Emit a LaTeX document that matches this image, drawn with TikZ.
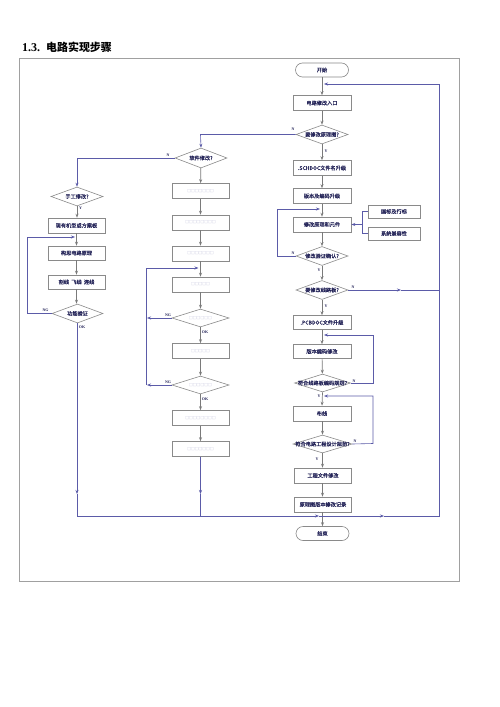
\documentclass[tikz,border=0pt]{standalone}
\usepackage{fontspec}
\setmainfont{Liberation Serif}
\newfontfamily\cjk{Noto Sans CJK SC}[FakeBold=0.7]
\newfontfamily\cjkph{Noto Sans CJK SC}
\usetikzlibrary{shapes.geometric,arrows.meta}
\definecolor{boxline}{HTML}{8A8A8A}
\definecolor{flowc}{HTML}{7A7A7A}
\definecolor{txt}{HTML}{26265A}
\definecolor{loopc}{HTML}{5B5BA8}
\definecolor{ph}{HTML}{A0A0C6}
\definecolor{framec}{HTML}{A0A0A0}
\tikzset{
  box/.style={draw=boxline, line width=0.6bp, minimum width=57bp, minimum height=15bp, inner sep=0pt, font=\cjk\fontsize{5.2}{6}\selectfont, text=txt},
  sbox/.style={box, minimum width=52bp, minimum height=13bp},
  term/.style={box, rounded corners=7bp, minimum width=53bp, minimum height=14bp},
  dia/.style={diamond, draw=boxline, line width=0.6bp, inner sep=0pt, minimum width=52bp, minimum height=19bp, shape aspect=2.8,
     label={[font=\cjk\fontsize{5.2}{6}\selectfont, text=txt, inner sep=0pt]center:#1}},
  phd/.style={font=\cjkph\fontsize{3.8}{5}\selectfont, text=ph},
  flow/.style={draw=flowc, line width=0.7bp, -{Stealth[length=4bp,width=3bp]}},
  lp/.style={draw=loopc, line width=0.6bp},
  lpa/.style={lp, -{Stealth[length=4bp,width=3bp]}},
  lbl/.style={font=\fontsize{4}{5}\selectfont\bfseries, text=txt, inner sep=0.3bp},
}
\begin{document}
\begin{tikzpicture}[x=1bp,y=-1bp]
\useasboundingbox (0,0) rectangle (500,707);
\fill[white] (0,0) rectangle (500,707);
% title and frame
\node[anchor=west, inner sep=0pt, text=black] (title) at (22,47.5) {\fontsize{12}{14}\selectfont\bfseries 1.3.\hspace{6bp}{\cjkph\fontsize{11}{13}\selectfont 电路实现步骤}};
\draw[framec, line width=0.8bp] (19,58.5) rectangle (459,581.5);

% main column
\node[term] (start) at (322,70) {开始};
\node[box, minimum width=58bp] (n1) at (322,103) {电路修改入口};
\node[dia={要修改原理图?}] (d1) at (322,134.5) {};
\node[box, minimum width=58bp] (n2) at (322,168) {.SCHDOC文件名升级};
\node[box, minimum width=58bp] (n3) at (322,196) {版本及编码升级};
\node[box, minimum width=58bp] (n4) at (322,224.5) {修改原理和元件};
\node[sbox] (s1) at (394,211.5) {国标及行标};
\node[sbox] (s2) at (394,233.5) {系统兼容性};
\node[dia={修改验证确认?}] (d2) at (322,256) {};
\node[dia={要修改线路板?}] (d3) at (322,290) {};
\node[box, minimum width=58bp, minimum height=14bp] (n5) at (322,322.5) {.PCBDOC文件升级};
\node[box, minimum width=58bp, minimum height=14bp] (n6) at (322,351.5) {版本编码修改};
\node[dia={符合线路板编码规则?}, minimum width=56bp, minimum height=18bp] (d4) at (322.5,383) {};
\node[box, minimum width=58bp] (n7) at (322,413.5) {布线};
\node[dia={符合电路工程设计规范?}, minimum width=59bp, minimum height=18bp] (d5) at (322.5,444) {};
\node[box] (n8) at (323,475.5) {工程文件修改};
\node[box] (n9) at (323,504.5) {原理图版本修改记录};
\node[term] (end) at (322.5,533.5) {结束};

% middle column
\node[dia={软件修改?}, minimum height=20bp] (m0) at (201,158) {};
\node[box, phd] (m1) at (200.5,191) {□□□□□□□};
\node[box, phd] (m2) at (200.5,222.5) {□□□□□□□□};
\node[box, phd] (m3) at (200.5,253.5) {□□□□□□□};
\node[box, phd] (m4) at (200.5,284.5) {□□□□□};
\node[diamond, draw=boxline, line width=0.6bp, inner sep=0pt, minimum width=57bp, minimum height=18bp, shape aspect=3,
  label={[phd, inner sep=0pt]center:□□□□□□}] (md1) at (200.5,318) {};
\node[box, phd] (m5) at (200.5,351) {□□□□□};
\node[diamond, draw=boxline, line width=0.6bp, inner sep=0pt, minimum width=57bp, minimum height=18bp, shape aspect=3,
  label={[phd, inner sep=0pt]center:□□□□□□}] (md2) at (200.5,385) {};
\node[box, phd] (m6) at (200.5,418) {□□□□□□□□};
\node[box, phd] (m7) at (200.5,449) {□□□□□□□};

% left column
\node[dia={手工修改?}] (l0) at (77,196.5) {};
\node[box] (l1) at (76.5,225.5) {现有机型或方案板};
\node[box, minimum height=14bp] (l2) at (76.5,253) {构思电路原理};
\node[box, minimum height=14bp] (l3) at (76.5,282) {割线\ \ 飞线\ \ 连线};
\node[dia={功能验证}, minimum width=51bp] (l4) at (77.5,313.5) {};

% coordinates
\coordinate (cT) at (324,84);
\coordinate (cTR) at (439,84);
\coordinate (cBR) at (439,516);
\coordinate (cBL) at (77,516);
\coordinate (cLa) at (77,494);
\coordinate (cMa) at (200.5,494);
\coordinate (cMb) at (200.5,516);
\coordinate (cB1) at (319,516);
\coordinate (cB2) at (384,516);
\coordinate (cD1) at (200.5,134.5);
\coordinate (cM0) at (77,158);
\coordinate (cL4a) at (27,313.5);
\coordinate (cL4b) at (27,237);
\coordinate (cL4c) at (75,237);
\coordinate (cMd1) at (147,318);
\coordinate (cMd2) at (146,385);
\coordinate (cMd2b) at (146,268);
\coordinate (cMd2c) at (198.5,268);
\coordinate (cD2a) at (277,256);
\coordinate (cD2b) at (277,209);
\coordinate (cD2c) at (320,209);
\coordinate (cD3a) at (401,290);
\coordinate (cD3b) at (439,290);
\coordinate (cD4a) at (373,383);
\coordinate (cD4b) at (373,335);
\coordinate (cD4c) at (324,335);
\coordinate (cD5a) at (373,443.5);
\coordinate (cD5b) at (373,396);
\coordinate (cD5c) at (324,396);
\coordinate (cBr1) at (362,211.5);
\coordinate (cBr2) at (362,233.5);
\coordinate (cBr3) at (362,224.5);

% main flow
\draw[flow] (start) -- (n1);
\draw[flow] (n1) -- (d1);
\draw[flow] (d1) -- (n2);
\draw[flow] (n2) -- (n3);
\draw[flow] (n3) -- (n4);
\draw[flow] (n4) -- (d2);
\draw[flow] (d2) -- (d3);
\draw[flow] (d3) -- (n5);
\draw[flow] (n5) -- (n6);
\draw[flow] (n6) -- (d4);
\draw[flow] (d4.south) -- (n7.north);
\draw[flow] (n7.south) -- (d5.south |- n7.south) -- (d5.north);
\draw[flow] (d5.south) -- (n8.north -| d5.south);
\draw[flow] (n8.south -| d5.south) -- (n9.north -| d5.south);
\draw[flow] (n9.south -| d5.south) -- (end.north -| d5.south);

\draw[flow] (m0) -- (m1);
\draw[flow] (m1) -- (m2);
\draw[flow] (m2) -- (m3);
\draw[flow] (m3) -- (m4);
\draw[flow] (m4) -- (md1);
\draw[flow] (md1) -- (m5);
\draw[flow] (m5) -- (md2);
\draw[flow] (md2) -- (m6);
\draw[flow] (m6) -- (m7);

\draw[flow] (l0.south) -- (l1.north -| l0.south);
\draw[flow] (l1.south) -- (l2.north);
\draw[flow] (l2) -- (l3);
\draw[flow] (l3.south) -- (l4.north -| l3.south);

% loops
\draw[lpa] (l4.south -| cLa) -- (cLa);
\draw[lp] (cLa) -- (cBL);
\draw[lpa] (m7.south) -- (cMa);
\draw[lp] (cMa) -- (cMb);
\draw[lpa] (cBL) -- (cB1);
\draw[lpa] (cB1) -- (cB2);
\draw[lp] (cB2) -- (cBR) -- (cTR);
\draw[lpa] (cTR) -- (cT);

\draw[lpa] (d1.west) -- (cD1) -- (m0.north);
\draw[lpa] (m0.west) -- (cM0) -- (l0.north);
\draw[lpa] (l4.west) -- (cL4a) -- (cL4b) -- (cL4c);
\draw[lpa] (md1.west) -- (cMd1);
\draw[lpa] (md2.west) -- ([xshift=1bp]cMd2);
\draw[lpa] (cMd2) -- (cMd2b) -- (cMd2c);
\draw[lpa] (d2.west) -- (cD2a) -- (cD2b) -- (cD2c);
\draw[lpa] (d3.east) -- (cD3a);
\draw[lp] (cD3a) -- (cD3b);
\draw[lpa] (d4.east) -- (cD4a) -- (cD4b) -- (cD4c);
\draw[lpa] (d5.east) -- (cD5a) -- (cD5b) -- (cD5c);
\draw[lp] (s1.west) -- (cBr1) -- (cBr2) -- (s2.west);
\draw[lpa] (cBr3) -- (n4.east);

% labels
\node[lbl] (tN1) at (293,129.5) {N};
\node[lbl] (tY1) at (326,151) {Y};
\node[lbl] (tN2) at (168,155.5) {N};
\node[lbl] (tY2) at (80.5,208) {Y};
\node[lbl] (tNG1) at (45.5,310.5) {NG};
\node[lbl] (tOK1) at (82,327.5) {OK};
\node[lbl] (tNG2) at (168,315.5) {NG};
\node[lbl] (tOK2) at (205,332.5) {OK};
\node[lbl] (tNG3) at (168,382.5) {NG};
\node[lbl] (tOK3) at (205,399) {OK};
\node[lbl] (tN3) at (293,253.5) {N};
\node[lbl] (tY3) at (319,270.5) {Y};
\node[lbl] (tN4) at (353,287) {N};
\node[lbl] (tY4) at (326,306.5) {Y};
\node[lbl] (tN5) at (354,381) {N};
\node[lbl] (tY5) at (319,396.5) {Y};
\node[lbl] (tN6) at (355,441.5) {N};
\node[lbl] (tY6) at (317,459) {Y};
\end{tikzpicture}
\end{document}
